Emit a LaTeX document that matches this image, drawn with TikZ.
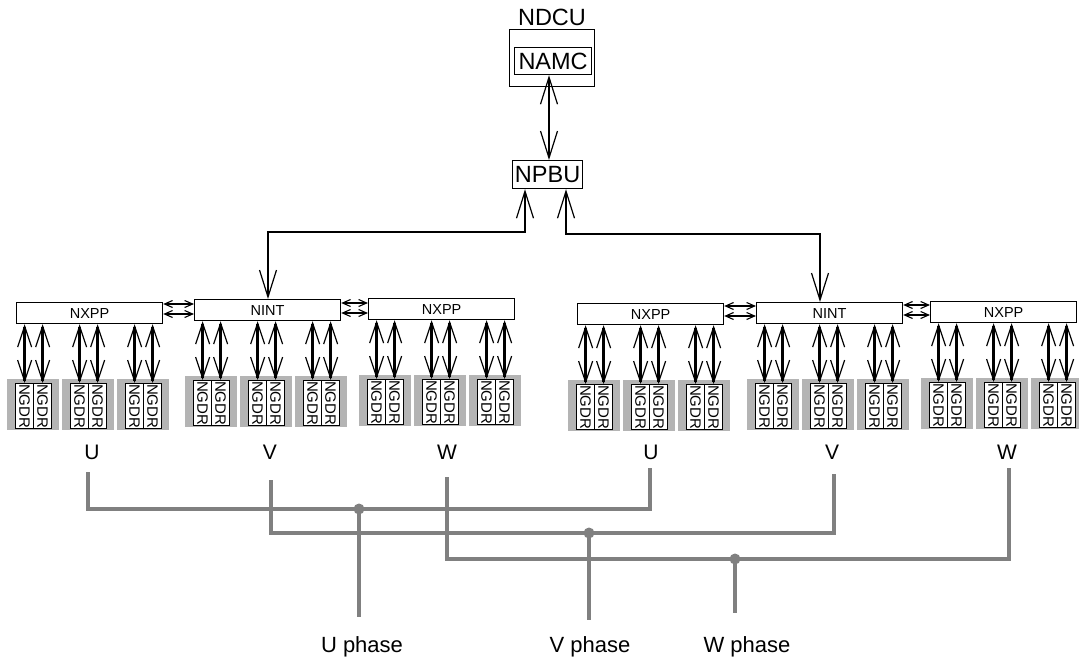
\documentclass[tikz,border=0pt]{standalone}
\usepackage{fontspec}
\setmainfont{Liberation Sans}
\usepackage{graphicx}
\usetikzlibrary{arrows.meta}
\definecolor{bus}{RGB}{128,128,128}
\definecolor{grp}{RGB}{180,180,180}
\tikzset{
 box/.style={draw, line width=1.2pt, fill=white, inner sep=0pt},
 ctrl/.style={box, minimum width=146pt, minimum height=21pt, anchor=north west, font=\fontsize{14.5pt}{16pt}\selectfont},
 gdr/.style={box, minimum width=18pt, minimum height=45pt, anchor=north west, font=\fontsize{15pt}{17pt}\selectfont},
 grpbox/.style={fill=grp, inner sep=0pt, minimum width=52pt, minimum height=51pt, anchor=north west},
 bigbox/.style={box, anchor=north west, font=\fontsize{23.5pt}{27pt}\selectfont},
 bigarr/.style={line width=2.3pt, {Straight Barb[length=27pt,width=17pt,line width=1.2pt]}-{Straight Barb[length=27pt,width=17pt,line width=1.2pt]}},
 midarr/.style={line width=2.3pt, {Straight Barb[length=21pt,width=14pt,line width=1.2pt]}-{Straight Barb[length=21pt,width=14pt,line width=1.2pt]}},
 smallarr/.style={line width=1.5pt, {Straight Barb[length=8pt,width=7pt,line width=1.1pt]}-{Straight Barb[length=8pt,width=7pt,line width=1.1pt]}},
 busline/.style={draw=bus, line width=4pt},
 lbl/.style={inner sep=0pt, font=\fontsize{21pt}{25pt}\selectfont},
 phaselbl/.style={inner sep=0pt, anchor=base, font=\fontsize{22pt}{26pt}\selectfont},
}
\newcommand\mkunit[4]{%
 \node[ctrl] (#1) at (#2,#3) {#4};
 \foreach \g in {0,1,2}{
   \pgfmathsetmacro\gx{#2-9+55*\g}
   \pgfmathsetmacro\gy{#3+77}
   \node[grpbox] (#1-\g) at (\gx,\gy) {};
   \node[gdr] (#1-\g-a) at (\gx+8,\gy+4) {\rotatebox{-90}{NGDR}};
   \node[gdr] (#1-\g-b) at (\gx+26,\gy+4) {\rotatebox{-90}{NGDR}};
   \draw[midarr] (#1.south -| #1-\g-a.north) -- (#1-\g-a.north);
   \draw[midarr] (#1.south -| #1-\g-b.north) -- (#1-\g-b.north);
 }
}
\begin{document}
\begin{tikzpicture}[x=1pt,y=-1pt]
\useasboundingbox (0,0) rectangle (1079,659);
% top
\node[inner sep=0pt, font=\fontsize{23.5pt}{27pt}\selectfont] (ndcuLab) at (552,17) {NDCU};
\node[box, anchor=north west, minimum width=85pt, minimum height=57pt] (ndcu) at (509,29) {};
\node[bigbox, minimum width=77pt, minimum height=27pt] (namc) at (514,47) {NAMC};
\node[bigbox, minimum width=70pt, minimum height=28pt] (npbu) at (512,160) {NPBU};
\draw[bigarr] (namc.south -| 549,0) -- (npbu.north -| 549,0);
% units
\mkunit{Lx}{16}{302}{NXPP}
\mkunit{Li}{194}{299}{NINT}
\mkunit{Ly}{368}{298}{NXPP}
\mkunit{Rx}{577}{303}{NXPP}
\mkunit{Ri}{756}{302}{NINT}
\mkunit{Ry}{930}{301}{NXPP}
% NPBU to NINT
\coordinate (lk) at (268,232);
\coordinate (rk) at (820,234);
\draw[bigarr] (npbu.south -| 525,0) |- (lk) -- (Li.north -| lk);
\draw[bigarr] (npbu.south -| 566,0) |- (rk) -- (Ri.north -| rk);
% horizontal links
\draw[smallarr] (Lx.east |- 0,304) -- (Li.west |- 0,304);
\draw[smallarr] (Lx.east |- 0,314) -- (Li.west |- 0,314);
\draw[smallarr] (Li.east |- 0,303) -- (Ly.west |- 0,303);
\draw[smallarr] (Li.east |- 0,313) -- (Ly.west |- 0,313);
\draw[smallarr] (Rx.east |- 0,306) -- (Ri.west |- 0,306);
\draw[smallarr] (Rx.east |- 0,316) -- (Ri.west |- 0,316);
\draw[smallarr] (Ri.east |- 0,305) -- (Ry.west |- 0,305);
\draw[smallarr] (Ri.east |- 0,315) -- (Ry.west |- 0,315);
% phase labels
\node[lbl] (u1) at (92,452) {U};
\node[lbl] (v1) at (270,452) {V};
\node[lbl] (w1) at (447,452) {W};
\node[lbl] (u2) at (651,452) {U};
\node[lbl] (v2) at (832,452) {V};
\node[lbl] (w2) at (1007,452) {W};
% bus
\coordinate (uL) at (88,472);  \coordinate (uR) at (650,468); \coordinate (uJ) at (359,509); \coordinate (uP) at (359,617);
\coordinate (vL) at (271,480); \coordinate (vR) at (834,474); \coordinate (vJ) at (589,533); \coordinate (vP) at (589,620);
\coordinate (wL) at (447,477); \coordinate (wR) at (1009,468); \coordinate (wJ) at (735,559); \coordinate (wP) at (735,613);
\draw[busline] (uL) |- (uJ) -| (uR);
\draw[busline] (vL) |- (vJ) -| (vR);
\draw[busline] (wL) |- (wJ) -| (wR);
\draw[busline] (uJ) -- (uP);
\draw[busline] (vJ) -- (vP);
\draw[busline] (wJ) -- (wP);
\fill[bus] (uJ) circle (5.5);
\fill[bus] (vJ) circle (5.5);
\fill[bus] (wJ) circle (5.5);
\node[phaselbl] (uPh) at (362,652) {U phase};
\node[phaselbl] (vPh) at (590,652) {V phase};
\node[phaselbl] (wPh) at (747,652) {W phase};
\end{tikzpicture}
\end{document}
